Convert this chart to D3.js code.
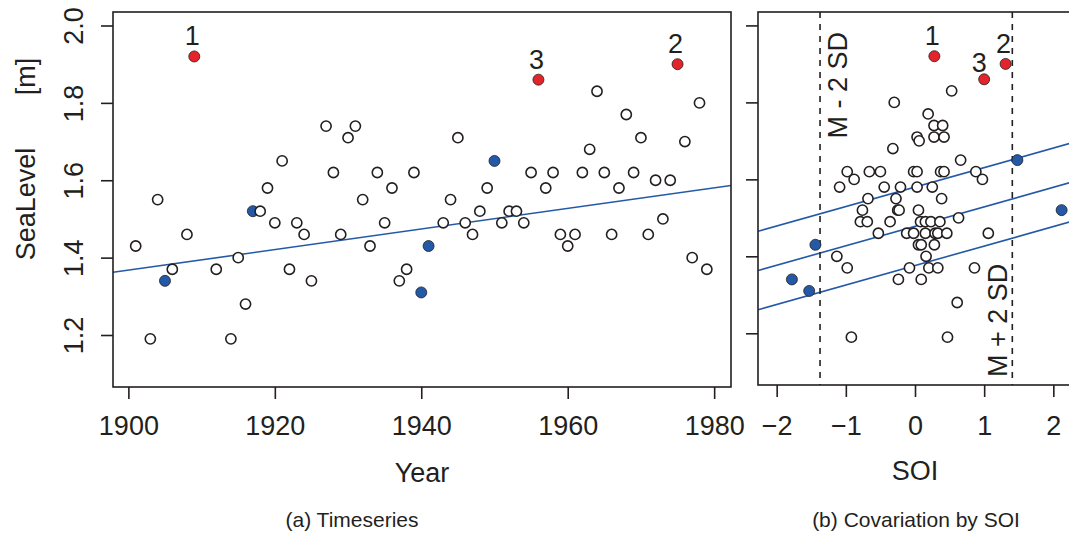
<!DOCTYPE html>
<html>
<head>
<meta charset="utf-8">
<script src="https://cdn.jsdelivr.net/npm/d3@7"></script>
<style>
  body { margin: 0; background: #fff; }
  svg { display: block; font-family: "Liberation Sans", Arial, Helvetica, sans-serif; }
</style>
</head>
<body>
<svg id="chart" width="1069" height="534"></svg>
<script>
// Annual maximum sea level vs year, and vs the Southern Oscillation Index.
const years = [1901, 1903, 1904, 1905, 1906, 1908, 1909, 1912, 1914, 1915, 1916, 1917, 1918, 1919,
  1920, 1921, 1922, 1923, 1924, 1925, 1927, 1928, 1929, 1930, 1931, 1932, 1933, 1934, 1935, 1936,
  1937, 1938, 1939, 1940, 1941, 1943, 1944, 1945, 1946, 1947, 1948, 1949, 1950, 1951, 1952, 1953,
  1954, 1955, 1956, 1957, 1958, 1959, 1960, 1961, 1962, 1963, 1964, 1965, 1966, 1967, 1968, 1969,
  1970, 1971, 1972, 1973, 1974, 1975, 1976, 1977, 1978, 1979];
const seaLevel = [1.43, 1.19, 1.55, 1.34, 1.37, 1.46, 1.92, 1.37, 1.19, 1.40, 1.28, 1.52, 1.52, 1.58,
  1.49, 1.65, 1.37, 1.49, 1.46, 1.34, 1.74, 1.62, 1.46, 1.71, 1.74, 1.55, 1.43, 1.62, 1.49, 1.58,
  1.34, 1.37, 1.62, 1.31, 1.43, 1.49, 1.55, 1.71, 1.49, 1.46, 1.52, 1.58, 1.65, 1.49, 1.52, 1.52,
  1.49, 1.62, 1.86, 1.58, 1.62, 1.46, 1.43, 1.46, 1.62, 1.68, 1.83, 1.62, 1.46, 1.58, 1.77, 1.62,
  1.71, 1.46, 1.60, 1.50, 1.60, 1.90, 1.70, 1.40, 1.80, 1.37];
const soi = [0.05, -0.92, -0.68, -1.78, -0.98, -0.53, 0.28, -0.08, 0.47, -1.13, 0.61, 2.12, -0.76, -1.09,
  -0.79, 0.66, 0.20, -0.69, -0.12, -0.24, 0.275, -0.98, -0.02, 0.03, 0.40, -0.275, 0.09, -0.66, -0.36, -0.445,
  0.09, 0.33, -0.50, -1.53, -1.44, 0.08, 0.385, 0.275, 0.15, 0.15, -0.25, -0.21, 1.48, 0.23, -0.23, 0.05,
  0.36, -0.02, 1.00, 0.03, 0.03, 0.29, 0.28, 0.33, 0.37, -0.32, 0.53, 0.42, 0.46, 0.25, 0.19, 0.88,
  0.42, 1.06, -0.88, 0.63, 0.975, 1.31, 0.06, 0.16, -0.30, 0.86];

const extremeYears = [1909, 1975, 1956];
const extremeLabels = ['1', '2', '3'];
const outsideYears = [1905, 1917, 1940, 1941, 1950]; // SOI beyond M ± 2 SD

const yearTicks = [1900, 1920, 1940, 1960, 1980];
const levelTicks = [1.2, 1.4, 1.6, 1.8, 2.0];
const soiTicks = [-2, -1, 0, 1, 2];

const timeTrend = [1.3676, 0.00266]; // level at 1900, slope per year
const soiTrend = [1.478, 0.0506, 0.102]; // level at SOI 0, slope, band half-width
const soiMean = 0.017;
const soiSD = 0.695;

// ---- layout
const BIG = 27;
const SMALL = 21;
const INK = '#231f20';
const BLUE = '#2459a8';
const RED = '#e4242b';
const boxA = { x0: 113, x1: 731, y0: 12, y1: 387 };
const boxB = { x0: 758, x1: 1072, y0: 12, y1: 385 };

const svg = d3.select('#chart');

const xA = d3.scaleLinear().domain([1897.9, 1982.3]).range([boxA.x0, boxA.x1]);
const yA = d3.scaleLinear().domain([1.0656, 2.0349]).range([boxA.y1, boxA.y0]);
const xB = d3.scaleLinear().domain([-2.27, 2.27]).range([boxB.x0, boxB.x1]);
const yB = d3.scaleLinear().domain([1.0656, 2.0349]).range([boxB.y1, boxB.y0]);

const rows = years.map((yr, i) => {
  const k = extremeYears.indexOf(yr);
  return {
    year: yr, level: seaLevel[i], soi: soi[i],
    label: k >= 0 ? extremeLabels[k] : null,
    kind: k >= 0 ? 'extreme' : outsideYears.includes(yr) ? 'outside' : 'normal',
  };
});
const fillOf = (d) => (d.kind === 'extreme' ? RED : d.kind === 'outside' ? BLUE : '#fff');

function frame(box) {
  svg.append('rect')
    .attr('x', box.x0).attr('y', box.y0)
    .attr('width', box.x1 - box.x0).attr('height', box.y1 - box.y0)
    .attr('fill', 'none').attr('stroke', INK).attr('stroke-width', 1.6);
}

function styleAxis(g) {
  g.select('.domain').remove();
  g.selectAll('line').attr('stroke', INK).attr('stroke-width', 1.6);
  g.selectAll('text').attr('fill', INK).style('font-size', `${BIG}px`).attr('font-family', null);
}

function points(g, xs, ys) {
  g.selectAll('circle')
    .data(rows)
    .join('circle')
    .attr('cx', xs).attr('cy', ys)
    .attr('r', (d) => (d.kind === 'normal' ? 5.1 : 5.5))
    .attr('fill', fillOf)
    .attr('stroke', INK)
    .attr('stroke-width', (d) => (d.kind === 'normal' ? 1.6 : 0.8));
}

// ---- (a) timeseries
svg.append('clipPath').attr('id', 'clipA').append('rect')
  .attr('x', boxA.x0).attr('y', boxA.y0).attr('width', boxA.x1 - boxA.x0).attr('height', boxA.y1 - boxA.y0);

svg.append('line')
  .attr('clip-path', 'url(#clipA)')
  .attr('x1', xA(1897.9)).attr('y1', yA(timeTrend[0] + timeTrend[1] * (1897.9 - 1900)))
  .attr('x2', xA(1982.3)).attr('y2', yA(timeTrend[0] + timeTrend[1] * (1982.3 - 1900)))
  .attr('stroke', BLUE).attr('stroke-width', 1.6);

const gA = svg.append('g');
points(gA, (d) => xA(d.year), (d) => yA(d.level));

gA.selectAll('text')
  .data(rows.filter((d) => d.label))
  .join('text')
  .attr('x', (d) => xA(d.year) - 2)
  .attr('y', (d) => yA(d.level) - 11)
  .attr('text-anchor', 'middle')
  .attr('fill', INK)
  .style('font-size', `${BIG}px`)
  .text((d) => d.label);

frame(boxA);

svg.append('g')
  .attr('transform', `translate(0,${boxA.y1})`)
  .call(d3.axisBottom(xA).tickValues(yearTicks).tickSize(12).tickPadding(17).tickFormat(d3.format('d')))
  .call(styleAxis);

svg.append('g')
  .attr('transform', `translate(${boxA.x0},0)`)
  .call(d3.axisLeft(yA).tickValues(levelTicks).tickSize(12).tickFormat(d3.format('.1f')))
  .call(styleAxis)
  .call((g) => g.selectAll('text')
    .attr('x', null).attr('dy', null)
    .attr('text-anchor', 'middle')
    .attr('transform', 'translate(-30,0) rotate(-90)'));

svg.append('text')
  .attr('transform', 'translate(35,159) rotate(-90)')
  .attr('text-anchor', 'middle')
  .attr('fill', INK)
  .style('font-size', `${BIG}px`)
  .style('white-space', 'pre')
  .text('SeaLevel       [m]');

svg.append('text')
  .attr('x', (boxA.x0 + boxA.x1) / 2).attr('y', 482)
  .attr('text-anchor', 'middle').attr('fill', INK)
  .style('font-size', `${BIG}px`)
  .text('Year');

svg.append('text')
  .attr('x', 352).attr('y', 527)
  .attr('text-anchor', 'middle').attr('fill', INK)
  .style('font-size', `${SMALL}px`)
  .text('(a) Timeseries');

// ---- (b) covariation by SOI
svg.append('clipPath').attr('id', 'clipB').append('rect')
  .attr('x', boxB.x0).attr('y', boxB.y0).attr('width', boxB.x1 - boxB.x0).attr('height', boxB.y1 - boxB.y0);

const gB = svg.append('g').attr('clip-path', 'url(#clipB)');

[-1, 0, 1].forEach((k) => {
  const at = (s) => soiTrend[0] + soiTrend[1] * s + k * soiTrend[2];
  gB.append('line')
    .attr('x1', xB(-2.27)).attr('y1', yB(at(-2.27)))
    .attr('x2', xB(2.27)).attr('y2', yB(at(2.27)))
    .attr('stroke', BLUE).attr('stroke-width', 1.6);
});

const sdLines = [soiMean - 2 * soiSD, soiMean + 2 * soiSD];
gB.selectAll('line.sd')
  .data(sdLines)
  .join('line')
  .attr('class', 'sd')
  .attr('x1', (d) => xB(d)).attr('x2', (d) => xB(d))
  .attr('y1', boxB.y0).attr('y2', boxB.y1)
  .attr('stroke', INK).attr('stroke-width', 1.6)
  .attr('stroke-dasharray', '6,6');

const gPts = gB.append('g');
points(gPts, (d) => xB(d.soi), (d) => yB(d.level));

gB.selectAll('text.num')
  .data(rows.filter((d) => d.label))
  .join('text')
  .attr('class', 'num')
  .attr('x', (d) => xB(d.soi) - (d.label === '3' ? 5 : 2))
  .attr('y', (d) => yB(d.level) - (d.label === '3' ? 7 : 11))
  .attr('text-anchor', 'middle')
  .attr('fill', INK)
  .style('font-size', `${BIG}px`)
  .text((d) => d.label);

svg.append('text')
  .attr('transform', `translate(${xB(sdLines[0]) + 27},${boxB.y0 + 20}) rotate(-90)`)
  .attr('text-anchor', 'end').attr('fill', INK)
  .style('font-size', `${BIG}px`)
  .text('M - 2 SD');

svg.append('text')
  .attr('transform', `translate(${xB(sdLines[1]) - 5},${boxB.y1 - 8}) rotate(-90)`)
  .attr('text-anchor', 'start').attr('fill', INK)
  .style('font-size', `${BIG}px`)
  .text('M + 2 SD');

frame(boxB);

svg.append('g')
  .attr('transform', `translate(0,${boxB.y1})`)
  .call(d3.axisBottom(xB).tickValues(soiTicks).tickSize(12).tickPadding(19).tickFormat(d3.format('d')))
  .call(styleAxis);

svg.append('g')
  .attr('transform', `translate(${boxB.x0},0)`)
  .call(d3.axisLeft(yB).tickValues(levelTicks).tickSize(12).tickFormat(''))
  .call(styleAxis);

svg.append('text')
  .attr('x', xB(0)).attr('y', 480)
  .attr('text-anchor', 'middle').attr('fill', INK)
  .style('font-size', `${BIG}px`)
  .text('SOI');

svg.append('text')
  .attr('x', 916).attr('y', 527)
  .attr('text-anchor', 'middle').attr('fill', INK)
  .style('font-size', `${SMALL}px`)
  .text('(b) Covariation by SOI');
</script>
</body>
</html>
